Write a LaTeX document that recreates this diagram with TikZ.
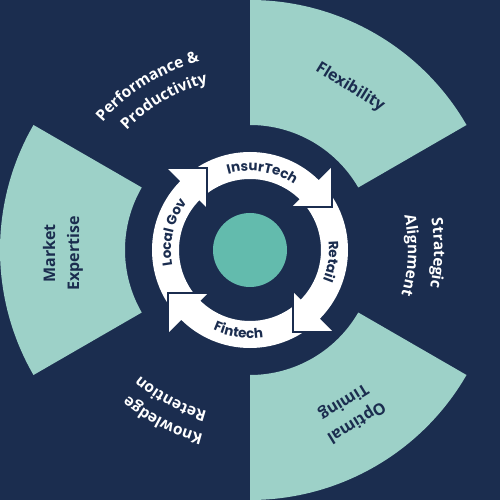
\documentclass[tikz,border=0pt]{standalone}
\usepackage{fontspec}
\setmainfont{Open Sans}
\newfontfamily\popfont{Poppins}
\usetikzlibrary{decorations.text}
\definecolor{navy}{HTML}{1B2D4F}
\definecolor{lteal}{HTML}{9DD1C8}
\definecolor{mteal}{HTML}{63BBAD}
\begin{document}
\begin{tikzpicture}[x=1pt,y=1pt,
  wedgefill/.style={fill=lteal},
  headfill/.style={fill=white},
  headedge/.style={draw=navy, line width=1.6pt, line join=miter},
  wedgelabel/.style={text=navy, font=\bfseries\fontsize{16}{24}\selectfont, align=center, inner sep=0pt},
  ringtext/.style={decorate, decoration={text along path, text align=center, text color=navy,
     text={|\popfont\bfseries\fontsize{13.5}{13.5}\selectfont|#1}}},
  outertext/.style={decorate, decoration={text along path, text align=center, text color=white,
     text={|\bfseries\fontsize{15.5}{15.5}\selectfont|#1}}}
]
\useasboundingbox (-250,-250) rectangle (250,250);
\fill[navy] (-250,-250) rectangle (250,250);
% light wedges
\foreach \a in {30,150,270}{
  \path[wedgefill] (\a:125) -- (\a:250) arc[start angle=\a, end angle=\a+60, radius=250]
     -- ({\a+60}:125) arc[start angle=\a+60, end angle=\a, radius=125] -- cycle;
}
% hub
\node[circle, fill=mteal, minimum size=74pt, inner sep=0pt] (hub) at (0,0) {};
% white ring
\fill[white, even odd rule] (0,0) circle[radius=98] (0,0) circle[radius=71];
% arrow heads
\foreach \r in {0,90,180,270}{
  \begin{scope}[rotate=\r]
    \path[headfill] (82,83) -- (82,43) -- (42,43) -- cycle;
    \path[headedge] (82,85) -- (82,43) -- (40,43);
  \end{scope}
}
% ring labels
\path[ringtext=InsurTech] (121:79) arc[start angle=121, end angle=41, radius=79];
\path[ringtext=Retail] (32:79) arc[start angle=32, end angle=-48, radius=79];
\path[ringtext=Local Gov] (207:79) arc[start angle=207, end angle=127, radius=79];
\path[ringtext=Fintech] (222:88) arc[start angle=222, end angle=302, radius=88];
% wedge labels
\node[wedgelabel, rotate=-31.6] (flex) at (58.4:191) {Flexibility};
\node[wedgelabel, rotate=90] (market) at (181:187) {Market\\Expertise};
\node[wedgelabel, rotate=211.7] (optimal) at (-58.3:190) {Optimal\\Timing};
% outer curved labels
\path[outertext={Performance {\&}}] (162:195) arc[start angle=162, end angle=82, radius=195];
\path[outertext=Productivity] (160:172) arc[start angle=160, end angle=80, radius=172];
\path[outertext=Strategic] (38:184) arc[start angle=38, end angle=-40, radius=184];
\path[outertext=Alignment] (38:158) arc[start angle=38, end angle=-42, radius=158];
\path[outertext=Knowledge] (283:190) arc[start angle=283, end angle=203, radius=190];
\path[outertext=Retention] (282:167) arc[start angle=282, end angle=202, radius=167];
\end{tikzpicture}
\end{document}
